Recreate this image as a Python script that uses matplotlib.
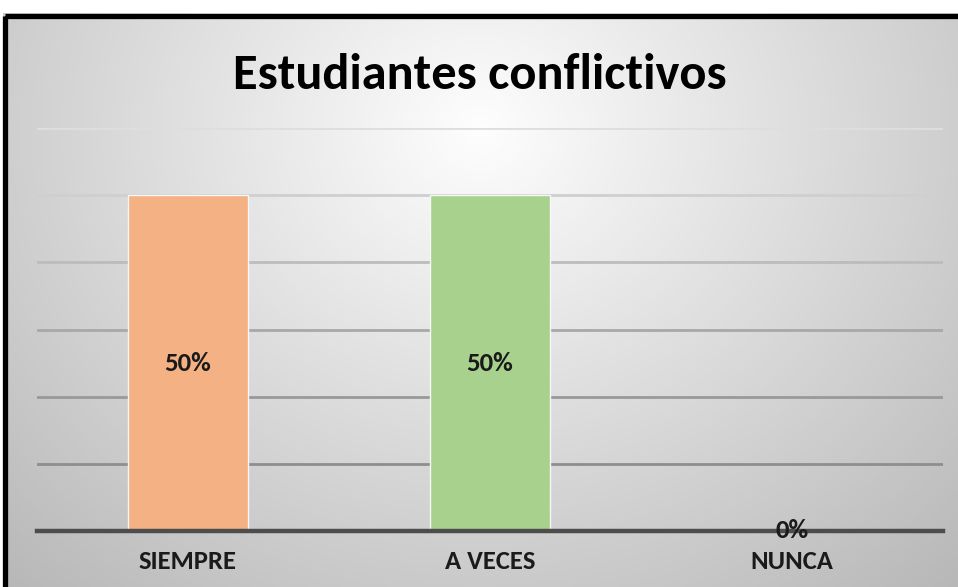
import numpy as np
import matplotlib
matplotlib.use("Agg")
import matplotlib.pyplot as plt
from matplotlib.patches import Rectangle
from matplotlib import font_manager

categories = ["SIEMPRE", "A VECES", "NUNCA"]
values = [0.50, 0.50, 0.0]
labels = ["50%", "50%", "0%"]
colors = ["#F4B183", "#A9D18E", "#9DC3E6"]
title = "Estudiantes conflictivos"

names = {f.name for f in font_manager.fontManager.ttflist}
FONT = "Open Sans"
for cand in ["Carlito", "Fira Sans Condensed", "Open Sans Condensed", "PT Sans Narrow",
             "Roboto Condensed", "Sofia Sans Semi Condensed", "Saira SemiCondensed"]:
    if cand in names:
        FONT = cand
        break

W, H = 958, 587
fig = plt.figure(figsize=(W / 100, H / 100), dpi=100)
fig.patch.set_facecolor("white")

bg = fig.add_axes([0, 0, 1, 1], zorder=0)
yy, xx = np.mgrid[0:H, 0:W]
cx, cy = 480, 130
d = np.sqrt(((xx - cx) / 640.0) ** 2 + ((yy - cy) / 560.0) ** 2)
val = 0.995 - 0.25 * np.clip(d, 0, 1.2)
img = np.dstack([val, val, val])
bg.imshow(img, extent=[0, W, H, 0], aspect="auto")
bg.set_xlim(0, W)
bg.set_ylim(H, 0)
bg.axis("off")
bg.add_patch(Rectangle((0, 0), W, 13, facecolor="white", edgecolor="none"))
bg.add_patch(Rectangle((0, 0), 3, H, facecolor="white", edgecolor="none"))
bg.add_patch(Rectangle((5, 15.5), W + 20, H + 20, facecolor="none",
                       edgecolor="black", linewidth=3.8))

left, right, top, bottom = 37, 943, 128, 531
ax = fig.add_axes([left / W, 1 - bottom / H, (right - left) / W, (bottom - top) / H], zorder=1)
ax.patch.set_alpha(0)
x = np.arange(len(categories))
ax.set_xlim(-0.5, len(categories) - 0.5)
ax.set_ylim(0, 0.6)
grid_cols = {0.1: "#8e8e8e", 0.2: "#999999", 0.3: "#a8a8a8", 0.4: "#bcbcbc",
             0.5: "#cfcfcf", 0.6: "#dedede"}
for g, c in grid_cols.items():
    ax.axhline(g, color=c, linewidth=2.0, zorder=1)
ax.bar(x, values, width=0.4, color=colors, edgecolor="#f7f7f7", linewidth=1.0, zorder=2)
ax.axhline(0, color="#4d4d4d", linewidth=3.2, zorder=3, clip_on=False)

value_texts = []
for xi, v, lab in zip(x, values, labels):
    ypos = v / 2 if v > 0 else 0.0
    t = ax.text(xi, ypos, lab, ha="center", va="center", fontsize=15,
                fontweight="bold", family=FONT, color="#1a1a1a", zorder=4)
    value_texts.append(t)
for s in ax.spines.values():
    s.set_visible(False)
ax.set_xticks(x)
ax.set_xticklabels(categories, fontsize=15, fontweight="bold", family=FONT, color="#1a1a1a")
ax.tick_params(axis="x", length=0, pad=14)
ax.set_yticks([])

ttl = fig.text(480 / W, 1 - 75 / H, title, ha="center", va="center", fontsize=38,
               fontweight="bold", family=FONT, color="black")

# size text to match reference widths
fig.canvas.draw()
r = fig.canvas.get_renderer()
def fit(t, target):
    w = t.get_window_extent(r).width
    t.set_fontsize(t.get_fontsize() * target / w)
fit(ttl, 494)
tl = ax.get_xticklabels()
w0 = tl[0].get_window_extent(r).width
fs = 15 * 98 / w0
for t in tl:
    t.set_fontsize(fs)
w1 = value_texts[0].get_window_extent(r).width
fs2 = 15 * 47 / w1
for t in value_texts:
    t.set_fontsize(fs2)

fig.savefig("out.png", dpi=100)
